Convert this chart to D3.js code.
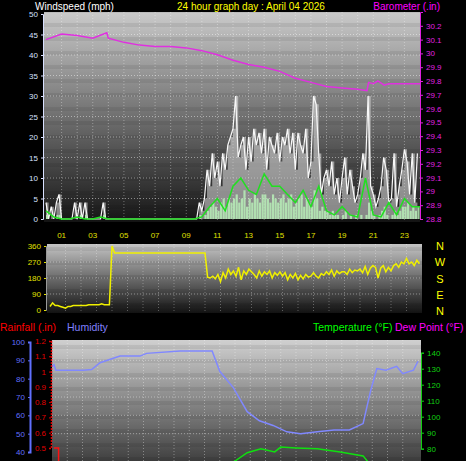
<!DOCTYPE html>
<html><head><meta charset="utf-8">
<script src="https://cdn.jsdelivr.net/npm/d3@7"></script>
<style>body{margin:0;background:#000}svg{display:block;font-family:"Liberation Sans",Arial,sans-serif}</style>
</head><body><div id="chart"></div>
<script>
// 10-minute wind gust (mph)
var gust = [4,0,3,0,4,6, 0,0,0,0,0,4, 0,4,0,4,0,0, 0,0,0,0,4,0,
  0,0,0,0,0,0, 0,0,0,0,0,0, 0,0,0,0,0,0, 0,0,0,0,0,0, 0,0,0,0,0,0, 0,0,0,0,0,4,
  2,5,12,8,16,10, 14,8,16,12,18,20, 22,30,15,18,20,12, 20,14,22,18,21,16,
  22,12,20,18,16,21, 14,20,18,22,16,21, 12,21,18,16,22,10, 14,30,28,16,6,10,
  12,8,14,6,10,4, 10,15,6,12,8,4, 6,10,16,12,30,8, 6,3,5,8,15,12,
  4,5,16,3,8,12, 17,14,6,16,4,16];
// 10-minute wind speed (mph)
var speed = [1,0,0,0,1,1, 0,0,0,0,0,0, 0,1,0,1,0,0, 0,0,0,0,1,0,
  0,0,0,0,0,0, 0,0,0,0,0,0, 0,0,0,0,0,0, 0,0,0,0,0,0, 0,0,0,0,0,0, 0,0,0,0,0,1,
  0,1,2,3,4,3, 2,4,5,3,5,4, 5,6,4,5,7,3, 5,4,6,5,4,6, 6,5,4,6,5,4, 5,6,4,5,6,3,
  4,5,6,3,5,4, 3,7,5,2,3,2, 2,1,2,1,1,0, 1,2,0,1,0,1, 0,1,0,1,4,2, 1,0,1,2,3,1,
  0,1,2,1,2,3, 3,4,2,3,2,3];
// half-hour average wind (mph)
var avgWind = [2,0.5, 0,0, 0.5,0, 0,0.5, 0,0, 0,0, 0,0, 0,0, 0,0, 0,0,
  0.5,3, 5,2, 8,10, 7,6, 11,8, 8,6, 4,7, 3,8, 2,1, 3,1, 0.5,10, 1,0.5, 4,1, 5,3, 3];
// barometer (in) [hour, value]
var baroHours = [0,1,2,3,3.9,4,5,6,7,8,9,10,11,12,13,14,15,16,17,18,19,20,20.6,20.7,21,21.3,21.7,22,24];
var baroVals = [30.10,30.14,30.13,30.11,30.15,30.11,30.08,30.06,30.05,30.05,30.04,30.02,29.99,29.95,29.92,29.90,29.87,29.82,29.79,29.76,29.75,29.74,29.73,29.79,29.78,29.80,29.77,29.78,29.78];
// 10-minute wind direction (deg)
var dir = [20,40,25,25,20,15, 10,20,20,25,25,25, 25,25,25,30,30,30, 30,30,35,30,30,30,
  360,320,320,320,320,320, 320,320,320,320,320,320, 320,320,320,320,320,320,
  320,320,320,320,320,320, 320,320,320,320,320,320, 320,320,320,320,320,320,
  320,185,180,190,175,200, 160,210,180,230,200,220, 190,240,170,220,200,230,
  215,200,180,220,190,215, 200,220,180,210,195,215, 190,210,170,200,180,205,
  170,195,175,200,185,190, 210,190,180,205,195,215, 200,225,190,220,205,215,
  215,200,230,210,225,220, 230,210,245,200,235,250, 240,180,235,250,215,240,
  220,250,260,240,270,260, 290,260,270,250,280,260];
// humidity (%) [hour, value]
var humHours = [0,0.13,0.25,2.05,2.6,3.15,4.46,5.77,6.2,8.4,10.5,11,11.9,12.8,13.6,14.5,15.4,16.3,17.4,18.5,19.5,20.4,20.9,21.3,21.9,22.6,23,23.7,24];
var humVals = [86.5,87.6,84.6,84.6,85,88.7,92.3,92.3,93.8,95.1,95.1,84,75,62,57,54.5,51,50,51,52,52,55.5,73.6,85.5,84.6,86.7,82.7,84.6,89.5];
// temperature (F) [hour, value]
var tempHours = [0,6,10,11.5,12,12.8,13.7,14.6,15,16,17.4,18.9,20.4,20.7,24];
var tempVals = [62,58,64,70,72.3,77.5,80,78,81,80.5,80,78,75.5,72,66];
var rainHours = [0,0.28,0.3,24];
var rainVals = [0.5,0.5,0,0];
var hourLabels = ["01","03","05","07","09","11","13","15","17","19","21","23"];
var compass = ["N","W","S","E","N"];

var W = 466, H = 461;
var svg = d3.select("#chart").append("svg").attr("width", W).attr("height", H);
var defs = svg.append("defs");
function grad(id, c1, c2) {
  var g = defs.append("linearGradient").attr("id", id).attr("x1", 0).attr("y1", 0).attr("x2", 0).attr("y2", 1);
  g.append("stop").attr("offset", "0%").attr("stop-color", c1);
  g.append("stop").attr("offset", "100%").attr("stop-color", c2);
}
grad("g1", "#cacaca", "#151515");
grad("g2", "#c4c4c4", "#121212");
grad("g3", "#d0d0d0", "#404040");
var pat = defs.append("pattern").attr("id", "stripe").attr("width", 4).attr("height", 14).attr("patternUnits", "userSpaceOnUse");
pat.append("rect").attr("y", 9).attr("width", 4).attr("height", 4).attr("fill", "rgba(0,0,0,0.07)");

function panel(x0, x1, y0, y1, g) {
  svg.append("rect").attr("x", x0).attr("y", y0).attr("width", x1 - x0).attr("height", y1 - y0).attr("fill", "url(#" + g + ")");
  svg.append("rect").attr("x", x0).attr("y", y0).attr("width", x1 - x0).attr("height", y1 - y0).attr("fill", "url(#stripe)");
}
var tick = function(sel, color) {
  sel.selectAll("text").attr("fill", color).style("font-size", "8px");
  sel.selectAll("line").attr("stroke", color);
  sel.select(".domain").attr("stroke", color);
};

// ---------- top panel: wind + barometer ----------
var x1 = d3.scaleLinear().domain([0, 24]).range([46, 420]);
var yW = d3.scaleLinear().domain([0, 50]).range([219, 14]);
var yB = d3.scaleLinear().domain([28.8, 30.3]).range([219, 12]);
panel(44, 420, 12, 222, "g1");
svg.append("g").selectAll("line").data(d3.range(1, 24)).join("line")
  .attr("x1", d => x1(d)).attr("x2", d => x1(d)).attr("y1", 12).attr("y2", 222)
  .attr("stroke", "rgba(255,255,255,0.35)").attr("stroke-dasharray", "1,2");
svg.append("g").selectAll("line").data(d3.range(5, 50, 5)).join("line")
  .attr("x1", 44).attr("x2", 420).attr("y1", d => yW(d)).attr("y2", d => yW(d))
  .attr("stroke", "rgba(255,255,255,0.45)").attr("stroke-dasharray", "1,2");

var tx = i => x1(i / 6);
svg.append("path").datum(gust)
  .attr("d", d3.area().x((d, i) => tx(i)).y0(yW(0)).y1(d => yW(d)).curve(d3.curveStepAfter))
  .attr("fill", "rgba(225,225,225,0.55)");
svg.append("path").datum(gust)
  .attr("d", d3.line().x((d, i) => tx(i)).y(d => yW(d)))
  .attr("fill", "none").attr("stroke", "#f8f8f8").attr("stroke-width", 1.2);
svg.append("g").selectAll("rect").data(speed).join("rect")
  .attr("x", (d, i) => tx(i)).attr("width", 2.2).attr("y", d => yW(d)).attr("height", d => yW(0) - yW(d))
  .attr("fill", "#b8f0b8").attr("opacity", 0.85);
svg.append("path").datum(avgWind)
  .attr("d", d3.line().x((d, i) => x1(i / 2)).y(d => yW(d)))
  .attr("fill", "none").attr("stroke", "#20e020").attr("stroke-width", 1.5);
svg.append("path").datum(baroHours)
  .attr("d", d3.line().x(d => x1(d)).y((d, i) => yB(baroVals[i])))
  .attr("fill", "none").attr("stroke", "#e030e0").attr("stroke-width", 1.5);

var ga = svg.append("g").attr("transform", "translate(43,0)")
  .call(d3.axisLeft(yW).tickValues(d3.range(0, 51, 5)).tickSize(2));
tick(ga, "#d8e0ff");
var gb = svg.append("g").attr("transform", "translate(420,0)")
  .call(d3.axisRight(yB).tickValues(d3.range(28.8, 30.21, 0.1)).tickFormat(d3.format("~g")).tickSize(3));
tick(gb, "#e020e0");
svg.append("g").selectAll("text").data(hourLabels).join("text")
  .attr("x", d => x1(+d)).attr("y", 238).attr("text-anchor", "middle")
  .attr("fill", "#e0e000").style("font-size", "8px").text(d => d);

svg.append("text").attr("x", 35).attr("y", 9.5).attr("fill", "#fff").style("font-size", "10px").text("Windspeed (mph)");
svg.append("text").attr("x", 251).attr("y", 9.5).attr("text-anchor", "middle").attr("fill", "#ffff00").style("font-size", "10px").text("24 hour graph day : April 04 2026");
svg.append("text").attr("x", 440).attr("y", 9.5).attr("text-anchor", "end").attr("fill", "#ff00ff").style("font-size", "10px").text("Barometer (.in)");

// ---------- direction panel ----------
var x2 = d3.scaleLinear().domain([0, 24]).range([50, 422]);
var yD = d3.scaleLinear().domain([0, 360]).range([310, 246]);
panel(47, 422, 244, 313, "g2");
svg.append("g").selectAll("line").data(d3.range(1, 24)).join("line")
  .attr("x1", d => x2(d)).attr("x2", d => x2(d)).attr("y1", 244).attr("y2", 313)
  .attr("stroke", "rgba(255,255,255,0.3)").attr("stroke-dasharray", "1,2");
svg.append("g").selectAll("line").data([90, 180, 270]).join("line")
  .attr("x1", 47).attr("x2", 422).attr("y1", d => yD(d)).attr("y2", d => yD(d))
  .attr("stroke", "rgba(255,255,255,0.4)").attr("stroke-dasharray", "1,2");
svg.append("path").datum(dir)
  .attr("d", d3.line().x((d, i) => x2(i / 6)).y(d => yD(d)))
  .attr("fill", "none").attr("stroke", "#f0f000").attr("stroke-width", 1.5);
var gd = svg.append("g").attr("transform", "translate(46,0)")
  .call(d3.axisLeft(yD).tickValues([0, 90, 180, 270, 360]).tickSize(2));
tick(gd, "#e0e000");
gd.select(".domain").attr("stroke", "#999");
svg.append("g").selectAll("text").data(compass).join("text")
  .attr("x", 440).attr("y", (d, i) => 250 + i * 16.3).attr("text-anchor", "middle")
  .attr("fill", "#ffff00").style("font-size", "11px").text(d => d);

// ---------- humidity / temperature panel ----------
svg.append("text").attr("x", 0).attr("y", 331).attr("fill", "#ff0000").style("font-size", "10.5px").text("Rainfall (.in)");
svg.append("text").attr("x", 67).attr("y", 331).attr("fill", "#8080ff").style("font-size", "10.5px").text("Humidity");
svg.append("text").attr("x", 313).attr("y", 331).attr("fill", "#00ff00").style("font-size", "10.5px").text("Temperature (°F)");
svg.append("text").attr("x", 395).attr("y", 331).attr("fill", "#ff00ff").style("font-size", "10.5px").text("Dew Point (°F)");

var x3 = d3.scaleLinear().domain([0, 24]).range([52, 418]);
var yH = d3.scaleLinear().domain([40, 100]).range([452, 342]);
var yR = d3.scaleLinear().domain([0.5, 1.2]).range([448, 341]);
var yT = d3.scaleLinear().domain([80, 140]).range([448.7, 352.7]);
panel(52, 421, 340, 461, "g3");
svg.append("g").selectAll("line").data(d3.range(1, 24)).join("line")
  .attr("x1", d => x3(d)).attr("x2", d => x3(d)).attr("y1", 340).attr("y2", 461)
  .attr("stroke", "rgba(255,255,255,0.35)").attr("stroke-dasharray", "1,2");
svg.append("g").selectAll("line").data(d3.range(50, 100, 10)).join("line")
  .attr("x1", 52).attr("x2", 421).attr("y1", d => yH(d)).attr("y2", d => yH(d))
  .attr("stroke", "rgba(255,255,255,0.4)").attr("stroke-dasharray", "1,2");
var clip = defs.append("clipPath").attr("id", "c3");
clip.append("rect").attr("x", 50).attr("y", 340).attr("width", 372).attr("height", 121);
var p3 = svg.append("g").attr("clip-path", "url(#c3)");
p3.append("path").datum(humHours)
  .attr("d", d3.line().x(d => x3(d)).y((d, i) => yH(humVals[i])))
  .attr("fill", "none").attr("stroke", "#8088ff").attr("stroke-width", 1.5);
p3.append("path").datum(tempHours)
  .attr("d", d3.line().x(d => x3(d)).y((d, i) => yT(tempVals[i])))
  .attr("fill", "none").attr("stroke", "#10e010").attr("stroke-width", 1.5);
p3.append("path").datum(rainHours)
  .attr("d", d3.line().x(d => x3(d) + 2).y((d, i) => yR(rainVals[i])).curve(d3.curveStepAfter))
  .attr("fill", "none").attr("stroke", "#ff1010").attr("stroke-width", 1.5);

var gh = svg.append("g").attr("transform", "translate(30,0)")
  .call(d3.axisLeft(yH).tickValues(d3.range(40, 101, 10)).tickSize(2));
tick(gh, "#6070ff");
gh.select(".domain").attr("stroke-width", 2);
var gr = svg.append("g").attr("transform", "translate(51,0)")
  .call(d3.axisLeft(yR).tickValues(d3.range(0.5, 1.21, 0.1)).tickFormat(d3.format("~g")).tickSize(2));
tick(gr, "#e00000");
gr.select(".domain").attr("stroke-dasharray", "2,1").attr("stroke-width", 1.5);
var gt = svg.append("g").attr("transform", "translate(421,0)")
  .call(d3.axisRight(yT).tickValues(d3.range(80, 141, 10)).tickSize(3));
tick(gt, "#10d010");
</script></body></html>
